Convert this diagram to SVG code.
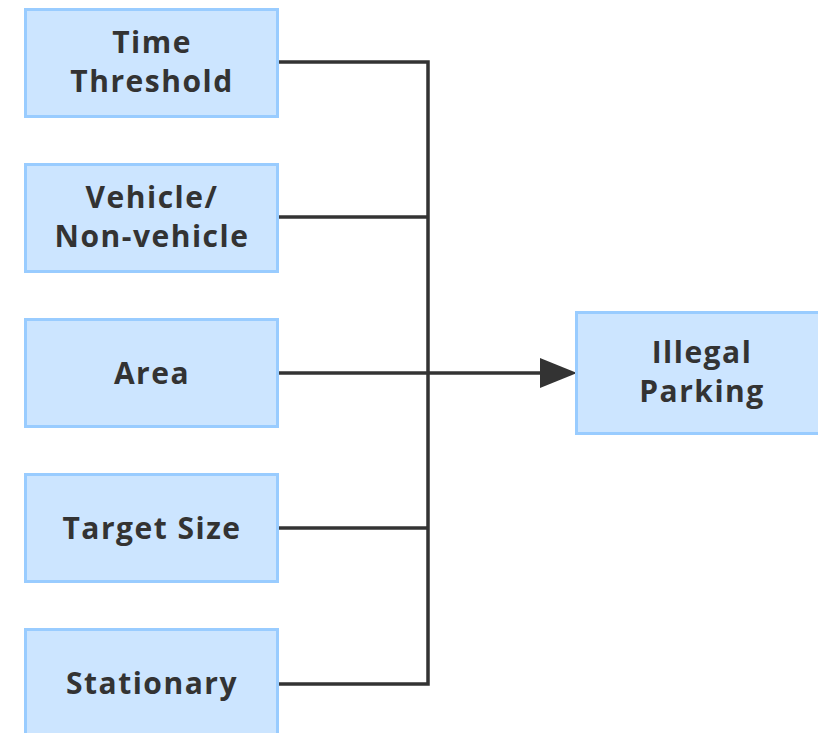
<svg xmlns="http://www.w3.org/2000/svg" width="818" height="733" viewBox="0 0 818 733">
  <style>
    .box { fill: #cce5ff; stroke: #99ccff; stroke-width: 3; }
    .lbl { font-family: "Open Sans", "Noto Sans", "DejaVu Sans", sans-serif; font-weight: bold; font-size: 30px; letter-spacing: 1.5px; fill: #333333; text-anchor: middle; }
    .wire { fill: none; stroke: #333333; stroke-width: 3.5; }
  </style>

  <g id="connectors">
    <path class="wire" d="M278,62 H428 V684 H278"/>
    <path class="wire" d="M278,217 H428"/>
    <path class="wire" d="M278,528 H428"/>
    <path class="wire" d="M278,373 H540"/>
    <path d="M540,358 L577,373 L540,388 Z" fill="#333333"/>
  </g>

  <g id="time-threshold">
    <rect class="box" x="25.5" y="9.5" width="252" height="107"/>
    <text class="lbl" x="152" y="53">Time</text>
    <text class="lbl" x="152" y="92">Threshold</text>
  </g>

  <g id="vehicle">
    <rect class="box" x="25.5" y="164.5" width="252" height="107"/>
    <text class="lbl" x="152" y="208">Vehicle/</text>
    <text class="lbl" x="152" y="247">Non-vehicle</text>
  </g>

  <g id="area">
    <rect class="box" x="25.5" y="319.5" width="252" height="107"/>
    <text class="lbl" x="152" y="384">Area</text>
  </g>

  <g id="target-size">
    <rect class="box" x="25.5" y="474.5" width="252" height="107"/>
    <text class="lbl" x="152" y="539">Target Size</text>
  </g>

  <g id="stationary">
    <rect class="box" x="25.5" y="629.5" width="252" height="107"/>
    <text class="lbl" x="152" y="694">Stationary</text>
  </g>

  <g id="illegal-parking">
    <rect class="box" x="576.5" y="312.5" width="250" height="121"/>
    <text class="lbl" x="702" y="363">Illegal</text>
    <text class="lbl" x="702" y="402">Parking</text>
  </g>
</svg>
